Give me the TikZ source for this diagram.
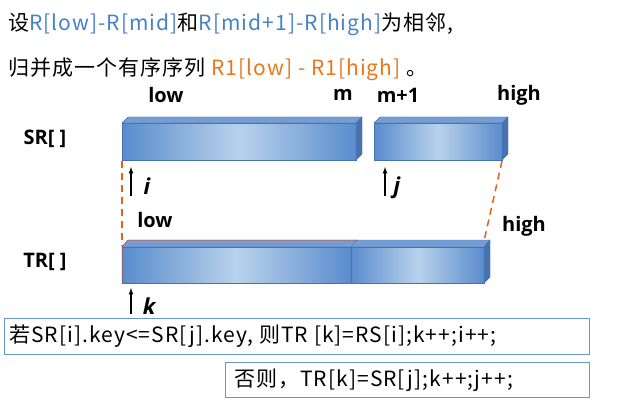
\documentclass[tikz,border=0pt]{standalone}
\usepackage{fontspec}
\setmainfont{Open Sans}
\newfontfamily\cjk{Noto Sans CJK SC}
\newfontfamily\cjkw[LetterSpace=5]{Noto Sans CJK SC}
\definecolor{tblue}{RGB}{70,130,200}
\definecolor{torange}{RGB}{230,120,30}
\definecolor{bdark}{RGB}{70,115,175}
\definecolor{bmid}{RGB}{90,140,205}
\definecolor{blight}{RGB}{185,210,235}
\definecolor{boxb}{RGB}{100,150,210}
\begin{document}
\begin{tikzpicture}[x=1pt,y=-1pt,
  lab/.style={font=\bfseries\fontsize{20}{20}\selectfont,inner sep=0pt},
  ptr/.style={-latex,line width=1.2pt},
  face/.style={left color=bmid,right color=bmid,middle color=blight,draw=bdark,line width=0.4pt},
  side/.style={fill=bdark,draw=bdark,line width=0.4pt},
  topf/.style={fill=bmid!85!white,draw=bdark,line width=0.4pt},
  dsh/.style={dash pattern=on 7pt off 5pt,draw=torange!80!red,line width=1.5pt},
  txtbox/.style={draw=boxb,line width=1pt,fill=white,anchor=north west,inner sep=0pt}]
\useasboundingbox (0,0) rectangle (629,401);
\fill[white] (0,0) rectangle (629,401);
% title
\node[anchor=west,inner sep=0pt,font=\cjkw\fontsize{21}{21}\selectfont] (t1) at (8,24) {设\textcolor{tblue}{R[low]-R[mid]}和\textcolor{tblue}{R[mid+1]-R[high]}为相邻,};
\node[anchor=west,inner sep=0pt,font=\cjkw\fontsize{21}{21}\selectfont] (t2) at (8,69) {归并成一个有序序列 \textcolor{torange}{R1[low] - R1[high]} 。};
% labels top
\node[lab] (llow) at (166,95) {low};
\node[lab] (lm) at (343,95) {m};
\node[lab] (lm1) at (398,95) {m+1};
\node[lab] (lhigh) at (519,95) {high};
\node[lab] (sr) at (45,139) {SR[ ]};
\node[lab] (tr) at (45,262) {TR[ ]};
% SR bar 1
\fill[topf] (122,123) -- (128,117) -- (362,117) -- (356,123) -- cycle;
\fill[side] (356,123) -- (362,117) -- (362,154) -- (356,160) -- cycle;
\node[face,minimum width=234,minimum height=37,inner sep=0pt,anchor=north west] (sr1) at (122,123) {};
% SR bar 2
\fill[topf] (374,123) -- (380,117) -- (508,117) -- (502,123) -- cycle;
\fill[side] (502,123) -- (508,117) -- (508,154) -- (502,160) -- cycle;
\node[face,minimum width=128,minimum height=37,inner sep=0pt,anchor=north west] (sr2) at (374,123) {};
% TR bar
\fill[topf] (122,247) -- (128,240) -- (490,240) -- (484,247) -- cycle;
\fill[side] (484,247) -- (490,240) -- (490,277) -- (484,283) -- cycle;
\node[face,minimum width=229,minimum height=36,inner sep=0pt,anchor=north west] (tr1) at (122,247) {};
\node[face,minimum width=133,minimum height=36,inner sep=0pt,anchor=north west] (tr2) at (351,247) {};
\draw[torange!60!red,line width=0.5pt] (122,283) -- (122,247) -- (128,240) -- (357,240);
\draw[bdark] (351,247) -- (357,240);
% dashed
\coordinate (a1) at (122,161); \coordinate (a2) at (122,246);
\coordinate (b1) at (502,161); \coordinate (b2) at (484,241);
\draw[dsh] (a1) -- (a2);
\draw[dsh] (b1) -- (b2);
% pointers
\coordinate (pi0) at (131,196); \coordinate (pi1) at (131,167);
\draw[ptr] (pi0) -- (pi1);
\node[font=\bfseries\itshape\fontsize{22}{22}\selectfont,inner sep=0pt] (li) at (147,186) {i};
\coordinate (pj0) at (385,196); \coordinate (pj1) at (385,167);
\draw[ptr] (pj0) -- (pj1);
\node[font=\bfseries\itshape\fontsize{22}{22}\selectfont,inner sep=0pt] (lj) at (397,188) {j};
\node[lab] (llow2) at (155,220) {low};
\node[lab] (lhigh2) at (524,226) {high};
\coordinate (pk0) at (131,314); \coordinate (pk1) at (131,288);
\draw[ptr] (pk0) -- (pk1);
\node[font=\bfseries\itshape\fontsize{22}{22}\selectfont,inner sep=0pt] (lk) at (149,306) {k};
% text boxes
\node[txtbox,minimum width=585,minimum height=36] (bx1) at (4,318) {};
\node[anchor=west,inner sep=0pt,font=\cjkw\fontsize{21}{21}\selectfont] (c1) at (9,336) {若SR[i].key<=SR[j].key, 则TR [k]=RS[i];k++;i++;};
\node[txtbox,minimum width=364,minimum height=35] (bx2) at (225,362) {};
\node[anchor=west,inner sep=0pt,font=\cjkw\fontsize{21}{21}\selectfont] (c2) at (234,380) {否则，TR[k]=SR[j];k++;j++;};
\end{tikzpicture}
\end{document}
